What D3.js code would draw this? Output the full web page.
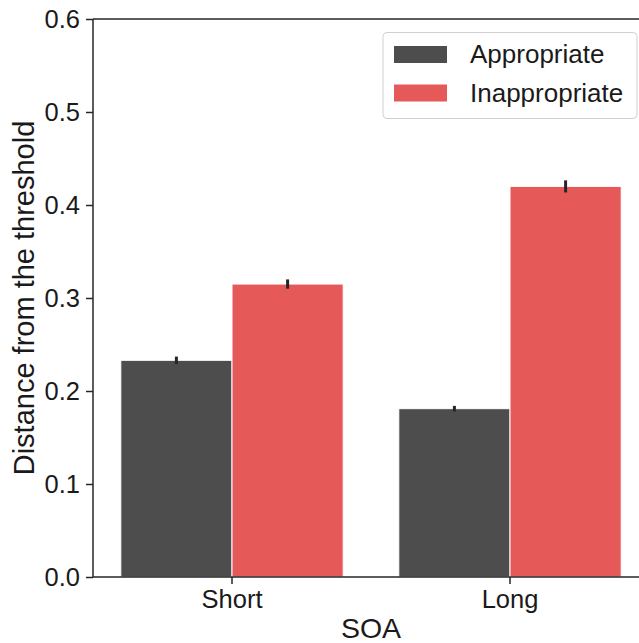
<!DOCTYPE html>
<html>
<head>
<meta charset="utf-8">
<script src="https://cdn.jsdelivr.net/npm/d3@7"></script>
<style>
  html, body { margin: 0; padding: 0; background: #fff; overflow: hidden; }
  svg { display: block; font-family: "Liberation Sans", Arial, sans-serif; }
</style>
</head>
<body>
<div id="chart"></div>
<script>
(function (d3) {
    'use strict';

    var categories = ['Short', 'Long'];
    var groups = ['Appropriate', 'Inappropriate'];
    var colors = ['#4d4d4d', '#e55959'];
    // means and error half-widths, per group, in category order
    var appropriate = [0.233, 0.181];
    var inappropriate = [0.315, 0.420];
    var appropriateErr = [0.004, 0.003];
    var inappropriateErr = [0.005, 0.0065];
    var yTicks = [0.0, 0.1, 0.2, 0.3, 0.4, 0.5, 0.6];

    var width = 639, height = 643;
    var left = 93, right = 649, top = 19, bottom = 577;

    var rows = [];
    categories.forEach(function (c, i) {
        rows.push({cat: c, group: groups[0], value: appropriate[i], err: appropriateErr[i]});
        rows.push({cat: c, group: groups[1], value: inappropriate[i], err: inappropriateErr[i]});
    });

    var svg = d3.select('#chart').append('svg')
        .attr('width', width)
        .attr('height', height);

    var x = d3.scaleBand().domain(categories).range([left, right]).paddingInner(0.2).paddingOuter(0.1);
    var xHue = d3.scaleBand().domain(groups).range([0, x.bandwidth()]);
    var y = d3.scaleLinear().domain([0, 0.6]).range([bottom, top]);
    var color = d3.scaleOrdinal().domain(groups).range(colors);

    // bars
    svg.append('g').selectAll('rect')
        .data(rows)
        .enter().append('rect')
        .attr('x', function (d) { return x(d.cat) + xHue(d.group); })
        .attr('y', function (d) { return y(d.value); })
        .attr('width', xHue.bandwidth())
        .attr('height', function (d) { return y(0) - y(d.value); })
        .attr('fill', function (d) { return color(d.group); })
        .attr('stroke', '#fff')
        .attr('stroke-width', 1);

    // error bars
    svg.append('g').selectAll('line')
        .data(rows)
        .enter().append('line')
        .attr('x1', function (d) { return x(d.cat) + xHue(d.group) + xHue.bandwidth() / 2; })
        .attr('x2', function (d) { return x(d.cat) + xHue(d.group) + xHue.bandwidth() / 2; })
        .attr('y1', function (d) { return y(d.value - d.err); })
        .attr('y2', function (d) { return y(d.value + d.err); })
        .attr('stroke', '#262626')
        .attr('stroke-width', 3);

    // axes
    var yAxis = svg.append('g')
        .attr('transform', 'translate(' + left + ',0)')
        .call(d3.axisLeft(y).tickValues(yTicks).tickFormat(d3.format('.1f')).tickSize(7).tickPadding(6));
    var xAxis = svg.append('g')
        .attr('transform', 'translate(0,' + bottom + ')')
        .call(d3.axisBottom(x).tickSize(7).tickPadding(6));

    [yAxis, xAxis].forEach(function (g) {
        g.select('.domain').attr('stroke', '#262626').attr('stroke-width', 1.5);
        g.selectAll('.tick line').attr('stroke', '#262626').attr('stroke-width', 1.5);
        g.selectAll('.tick text').attr('fill', '#1a1a1a').style('font-size', '25.5px');
    });
    yAxis.select('.domain').attr('d', 'M0,' + bottom + 'V' + top);
    xAxis.select('.domain').attr('d', 'M' + left + ',0H' + right);
    xAxis.selectAll('.tick text').attr('dy', '0.71em');

    // top spine
    svg.append('line')
        .attr('x1', left).attr('x2', right)
        .attr('y1', top).attr('y2', top)
        .attr('stroke', '#262626').attr('stroke-width', 1.5);

    // axis labels
    svg.append('text')
        .attr('x', (left + right) / 2)
        .attr('y', 638)
        .attr('text-anchor', 'middle')
        .attr('fill', '#1a1a1a')
        .style('font-size', '28.5px')
        .text('SOA');
    svg.append('text')
        .attr('transform', 'translate(34,' + ((top + bottom) / 2) + ') rotate(-90)')
        .attr('text-anchor', 'middle')
        .attr('fill', '#1a1a1a')
        .style('font-size', '29px')
        .text('Distance from the threshold');

    // legend
    var legend = svg.append('g');
    legend.append('rect')
        .attr('x', 383).attr('y', 32.5)
        .attr('width', 254).attr('height', 86)
        .attr('rx', 4)
        .attr('fill', '#fff')
        .attr('stroke', '#d0d0d0')
        .attr('stroke-width', 1);
    var items = legend.selectAll('g.item')
        .data(groups)
        .enter().append('g')
        .attr('class', 'item')
        .attr('transform', function (d, i) { return 'translate(0,' + (i * 38.5) + ')'; });
    items.append('rect')
        .attr('x', 394).attr('y', 46)
        .attr('width', 53).attr('height', 17)
        .attr('fill', function (d) { return color(d); });
    items.append('text')
        .attr('x', 470).attr('y', 63)
        .attr('fill', '#1a1a1a')
        .style('font-size', '26px')
        .text(function (d) { return d; });
})(d3);
</script>
</body>
</html>
